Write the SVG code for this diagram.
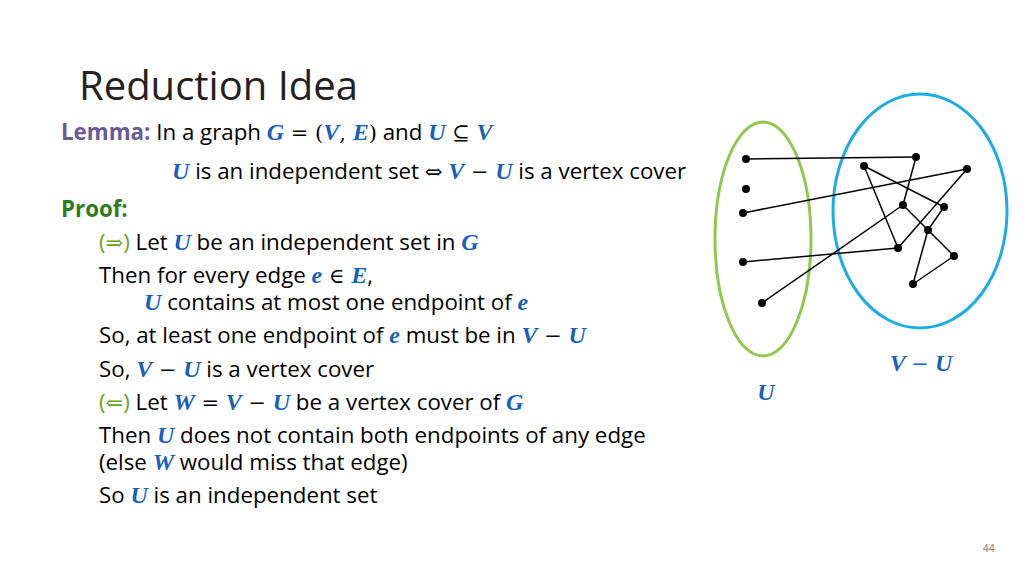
<svg xmlns="http://www.w3.org/2000/svg" width="1024" height="576" viewBox="0 0 1024 576">
<style>
.t{font-family:"Open Sans","Liberation Sans",sans-serif;font-size:22.3px}
.m{font-family:"Liberation Serif",serif;font-style:italic;font-weight:bold;fill:#1560BD;font-size:24px}
.o{font-family:"DejaVu Serif",serif;font-size:21px}
.e line{stroke:#000;stroke-width:1.5}
.n circle{fill:#000}
</style>
<rect width="1024" height="576" fill="#fff"/>
<text x="79" y="100" font-family="Open Sans, Liberation Sans, sans-serif" font-size="40" fill="#222">Reduction Idea</text>
<text class="t" x="61" y="140"><tspan fill="#6B5B95" font-weight="bold">Lemma:</tspan> In a graph <tspan class="m">G</tspan><tspan class="o"> = (</tspan><tspan class="m">V</tspan><tspan class="o">, </tspan><tspan class="m">E</tspan><tspan class="o">)</tspan> and <tspan class="m">U</tspan><tspan class="o"> ⊆ </tspan><tspan class="m">V</tspan></text>
<text class="t" x="172" y="179"><tspan class="m">U</tspan> is an independent set <tspan class="o">⇔</tspan> <tspan class="m">V</tspan><tspan class="o"> − </tspan><tspan class="m">U</tspan> is a vertex cover</text>
<text class="t" x="61" y="217" style="fill:#2E7D1F;font-weight:bold">Proof:</text>
<text class="t" x="99" y="250"><tspan fill="#6AA121">(<tspan class="o">⇒</tspan>)</tspan> Let <tspan class="m">U</tspan> be an independent set in <tspan class="m">G</tspan></text>
<text class="t" x="99" y="283">Then for every edge <tspan class="m">e</tspan><tspan class="o"> ∈ </tspan><tspan class="m">E</tspan>,</text>
<text class="t" x="144" y="310"><tspan class="m">U</tspan> contains at most one endpoint of <tspan class="m">e</tspan></text>
<text class="t" x="99" y="343">So, at least one endpoint of <tspan class="m">e</tspan> must be in <tspan class="m">V</tspan><tspan class="o"> − </tspan><tspan class="m">U</tspan></text>
<text class="t" x="99" y="377">So, <tspan class="m">V</tspan><tspan class="o"> − </tspan><tspan class="m">U</tspan> is a vertex cover</text>
<text class="t" x="99" y="410"><tspan fill="#6AA121">(<tspan class="o">⇐</tspan>)</tspan> Let <tspan class="m">W</tspan><tspan class="o"> = </tspan><tspan class="m">V</tspan><tspan class="o"> − </tspan><tspan class="m">U</tspan> be a vertex cover of <tspan class="m">G</tspan></text>
<text class="t" x="99" y="443">Then <tspan class="m">U</tspan> does not contain both endpoints of any edge</text>
<text class="t" x="99" y="470">(else <tspan class="m">W</tspan> would miss that edge)</text>
<text class="t" x="99" y="503">So <tspan class="m">U</tspan> is an independent set</text>
<text x="995" y="552" font-family="Liberation Sans, sans-serif" font-size="11" fill="#888" text-anchor="end">44</text>
<ellipse id="setU" cx="763" cy="239" rx="48" ry="117" fill="none" stroke="#92C74D" stroke-width="3"/>
<ellipse id="setVU" cx="920" cy="211" rx="87" ry="117" fill="none" stroke="#1CACE3" stroke-width="3"/>
<text class="m" x="766" y="400" text-anchor="middle">U</text>
<text class="m" x="921" y="371" text-anchor="middle">V <tspan class="o" style="font-style:normal;font-weight:normal">−</tspan> U</text>
<g id="edges" class="e">
<line x1="746" y1="159" x2="916" y2="157"/>
<line x1="916" y1="157" x2="903" y2="205"/>
<line x1="743" y1="213" x2="967" y2="169"/>
<line x1="967" y1="169" x2="898" y2="248"/>
<line x1="864" y1="166" x2="944" y2="207"/>
<line x1="864" y1="166" x2="898" y2="248"/>
<line x1="903" y1="205" x2="954" y2="256"/>
<line x1="762" y1="303" x2="903" y2="205"/>
<line x1="743" y1="262" x2="898" y2="248"/>
<line x1="944" y1="207" x2="928" y2="230"/>
<line x1="928" y1="230" x2="913" y2="284"/>
<line x1="913" y1="284" x2="954" y2="256"/>
</g>
<g id="nodes" class="n">
<circle cx="746" cy="159" r="4"/><circle cx="746" cy="189" r="4"/><circle cx="743" cy="213" r="4"/><circle cx="743" cy="262" r="4"/><circle cx="762" cy="303" r="4"/>
<circle cx="916" cy="157" r="4"/><circle cx="864" cy="166" r="4"/><circle cx="967" cy="169" r="4"/><circle cx="903" cy="205" r="4"/><circle cx="944" cy="207" r="4"/><circle cx="928" cy="230" r="4"/><circle cx="898" cy="248" r="4"/><circle cx="954" cy="256" r="4"/><circle cx="913" cy="284" r="4"/>
</g>
</svg>
